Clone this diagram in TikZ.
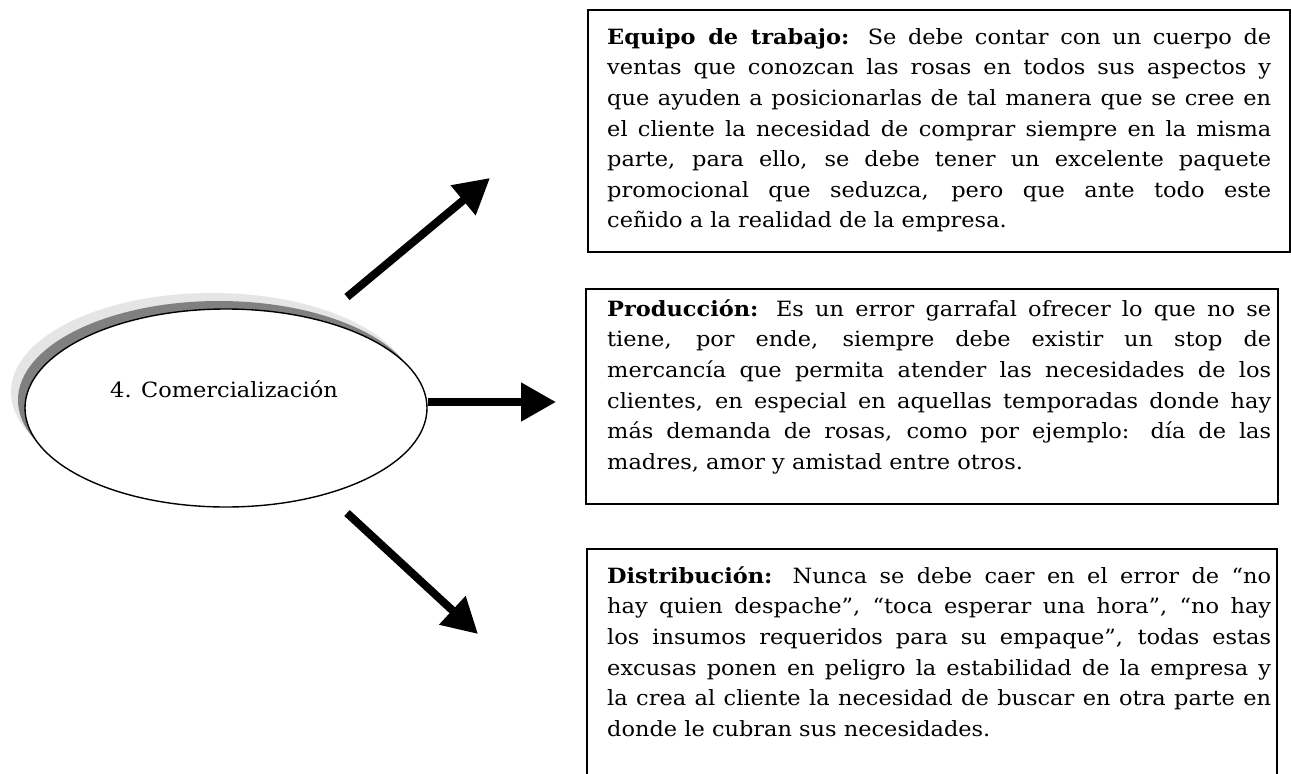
\documentclass[tikz,border=0pt]{standalone}
\usepackage{fontspec}
\setmainfont{DejaVu Serif}[FakeStretch=1.07]
\usetikzlibrary{arrows.meta,shapes.geometric}
\newcommand\jline[1]{\makebox[664pt][s]{#1}\\}
\begin{document}
\begin{tikzpicture}[x=1pt,y=-1pt,
  boxframe/.style={draw=black, line width=2pt, rectangle, inner sep=0pt, anchor=north west},
  bodytext/.style={anchor=north west, inner sep=0pt, text width=664pt, align=justify,
                   font=\fontsize{21}{30.6}\selectfont},
  bigarrow/.style={line width=8pt, -{Triangle[length=35pt,width=37pt]}},
  ellbase/.style={ellipse, minimum width=402pt, minimum height=198pt, inner sep=0pt}]
\useasboundingbox (0,0) rectangle (1291,774);
\fill[white] (0,0) rectangle (1291,774);

% central ellipse with layered shadow
\node[ellbase, fill=black!10] (shadowlight) at (212,392) {};
\node[ellbase, fill=black!50] (shadowdark) at (219,400) {};
\node[ellbase, fill=white, draw=black, line width=1.4pt] (ell) at (226,408) {};
\node[anchor=base, inner sep=0pt, font=\fontsize{21}{24}\selectfont] (elltext) at (224,397) {4. Comercialización};

% boxes
\node[boxframe, minimum width=702pt, minimum height=242pt] (box1) at (587,9) {};
\node[boxframe, minimum width=692pt, minimum height=215pt] (box2) at (585,288) {};
\coordinate (b3bl) at (587,778);
\coordinate (b3tl) at (587,549);
\coordinate (b3tr) at (1277,549);
\coordinate (b3br) at (1277,778);
\draw[line width=2pt] (b3bl) -- (b3tl) -- (b3tr) -- (b3br);

\node[bodytext] (text1) at (607,22.6) {%
\jline{\strut\textbf{Equipo de trabajo:} Se debe contar con un cuerpo de}
\jline{ventas que conozcan las rosas en todos sus aspectos y}
\jline{que ayuden a posicionarlas de tal manera que se cree en}
\jline{el cliente la necesidad de comprar siempre en la misma}
\jline{parte, para ello, se debe tener un excelente paquete}
\jline{promocional que seduzca, pero que ante todo este}
ceñido a la realidad de la empresa.};

\node[bodytext] (text2) at (607,294.6) {%
\jline{\strut\textbf{Producción:} Es un error garrafal ofrecer lo que no se}
\jline{tiene, por ende, siempre debe existir un stop de}
\jline{mercancía que permita atender las necesidades de los}
\jline{clientes, en especial en aquellas temporadas donde hay}
\jline{más demanda de rosas, como por ejemplo: día de las}
madres, amor y amistad entre otros.};

\node[bodytext] (text3) at (607,561.6) {%
\jline{\strut\textbf{Distribución:} Nunca se debe caer en el error de “no}
\jline{hay quien despache”, “toca esperar una hora”, “no hay}
\jline{los insumos requeridos para su empaque”, todas estas}
\jline{excusas ponen en peligro la estabilidad de la empresa y}
\jline{la crea al cliente la necesidad de buscar en otra parte en}
donde le cubran sus necesidades.};

% arrows
\coordinate (upTail) at (347,297);
\coordinate (upTip) at (490,178);
\coordinate (hTip) at (556,402);
\coordinate (dnTail) at (347,513);
\coordinate (dnTip) at (478,634);
\draw[bigarrow] (upTail) -- (upTip);
\draw[bigarrow] (ell.east |- hTip) -- (hTip);
\draw[bigarrow] (dnTail) -- (dnTip);
\end{tikzpicture}
\end{document}
